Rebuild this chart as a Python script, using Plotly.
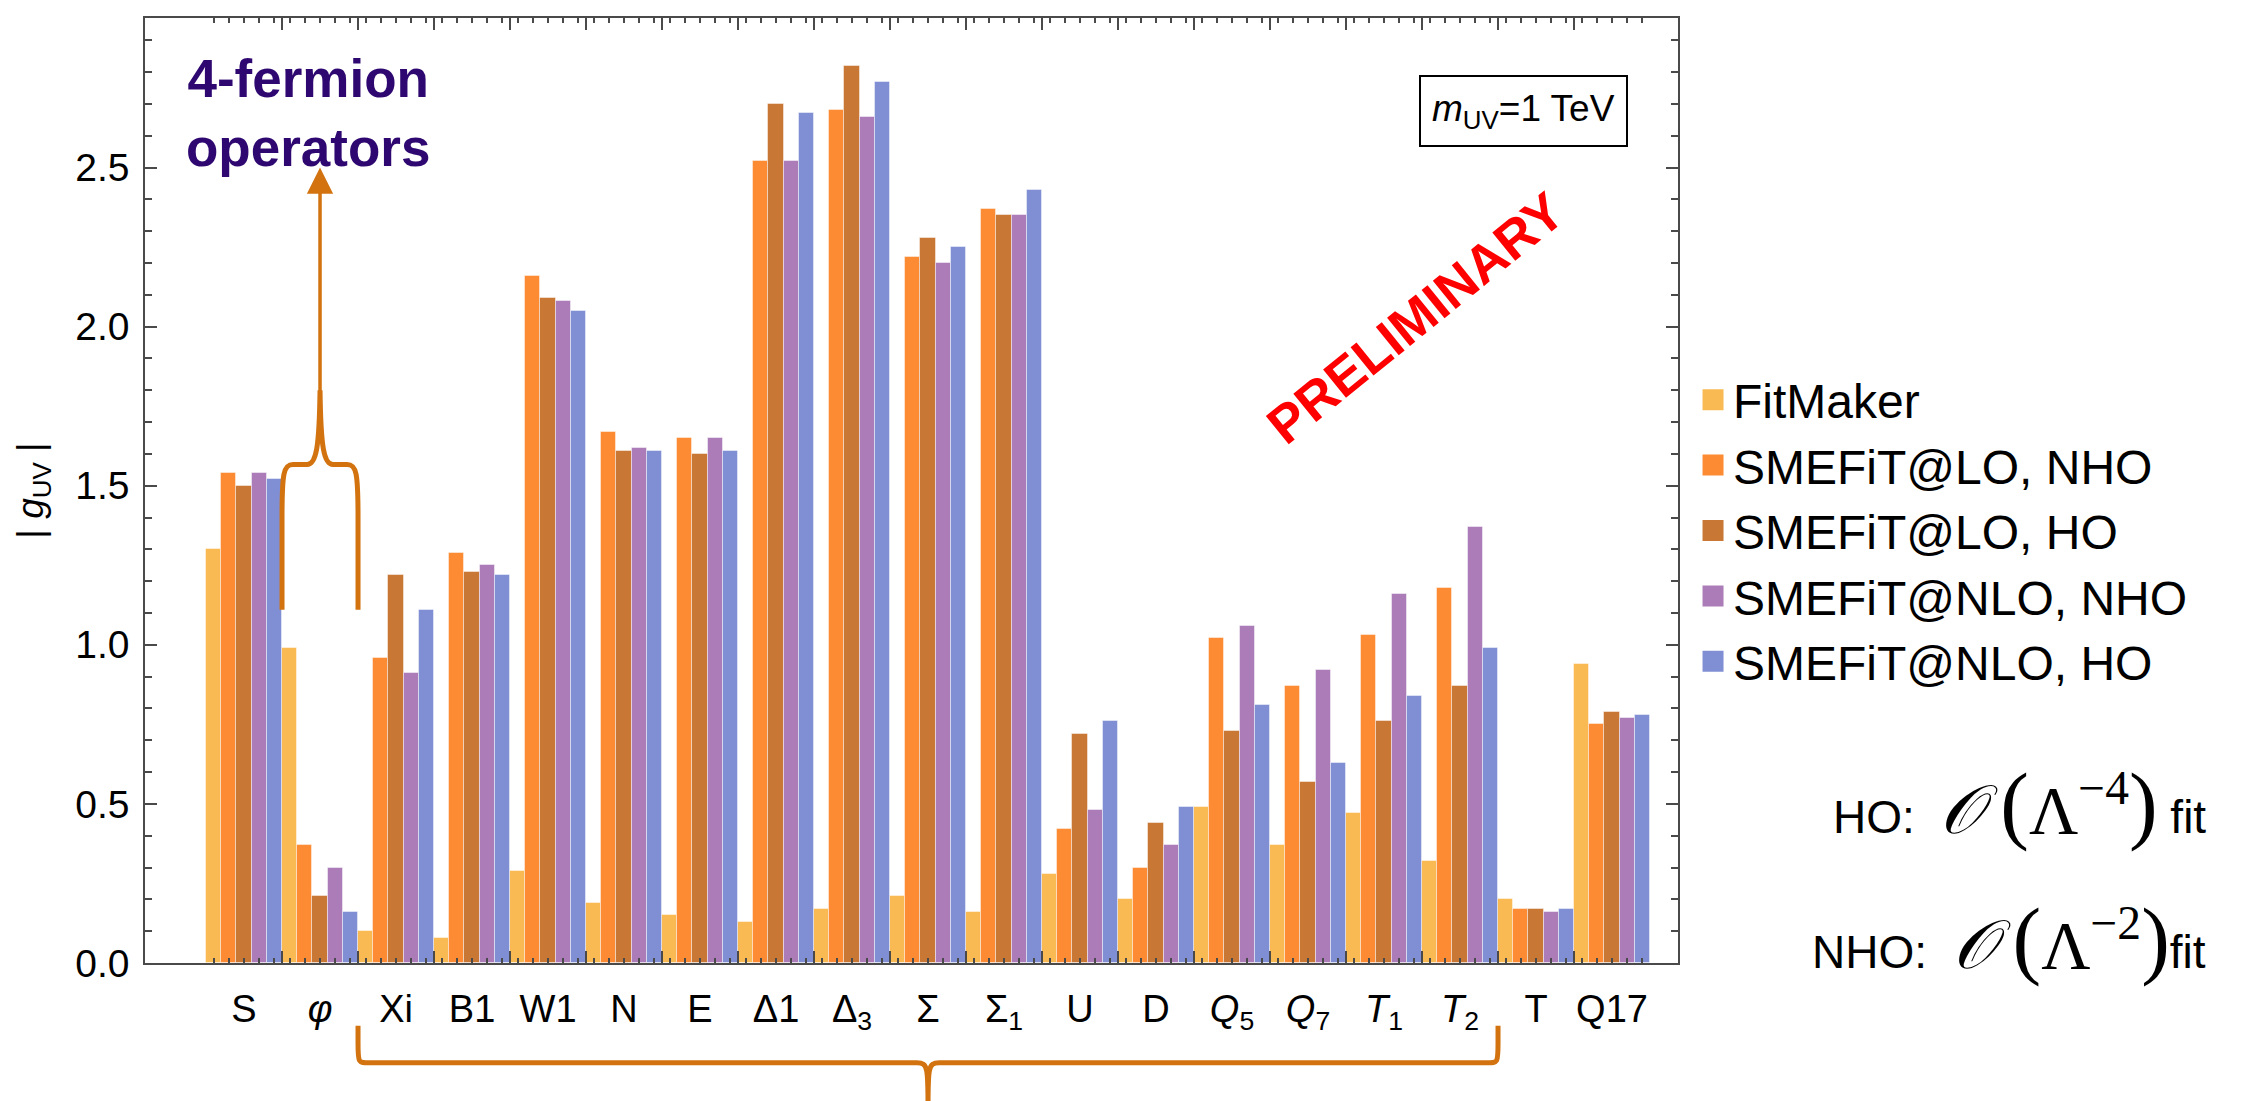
import plotly.graph_objects as go

categories = ["S", "<i>φ</i>", "Xi", "B1", "W1", "N", "E", "Δ1", "Δ<sub>3</sub>", "Σ",
              "Σ<sub>1</sub>", "U", "D", "<i>Q</i><sub>5</sub>", "<i>Q</i><sub>7</sub>",
              "<i>T</i><sub>1</sub>", "<i>T</i><sub>2</sub>", "T", "Q17"]

series_names = ["FitMaker", "SMEFiT@LO, NHO", "SMEFiT@LO, HO", "SMEFiT@NLO, NHO", "SMEFiT@NLO, HO"]

fitmaker = [1.30, 0.99, 0.10, 0.08, 0.29, 0.19, 0.15, 0.13, 0.17, 0.21, 0.16, 0.28, 0.20, 0.49, 0.37, 0.47, 0.32, 0.20, 0.94]
lo_nho   = [1.54, 0.37, 0.96, 1.29, 2.16, 1.67, 1.65, 2.52, 2.68, 2.22, 2.37, 0.42, 0.30, 1.02, 0.87, 1.03, 1.18, 0.17, 0.75]
lo_ho    = [1.50, 0.21, 1.22, 1.23, 2.09, 1.61, 1.60, 2.70, 2.82, 2.28, 2.35, 0.72, 0.44, 0.73, 0.57, 0.76, 0.87, 0.17, 0.79]
nlo_nho  = [1.54, 0.30, 0.91, 1.25, 2.08, 1.62, 1.65, 2.52, 2.66, 2.20, 2.35, 0.48, 0.37, 1.06, 0.92, 1.16, 1.37, 0.16, 0.77]
nlo_ho   = [1.52, 0.16, 1.11, 1.22, 2.05, 1.61, 1.61, 2.67, 2.77, 2.25, 2.43, 0.76, 0.49, 0.81, 0.63, 0.84, 0.99, 0.17, 0.78]

colors = ["#F9BA53", "#FD8B33", "#C87834", "#AB7CB7", "#808ED3"]

FONT = "Liberation Sans, Arial, sans-serif"
SERIF = "Liberation Serif, DejaVu Serif, serif"
AXIS_COLOR = "#4a4a4a"
BRACE_COLOR = "#D2730F"

n = len(categories)
xpos = list(range(n))
all_series = [fitmaker, lo_nho, lo_ho, nlo_nho, nlo_ho]

fig = go.Figure()
for name, vals, col in zip(series_names, all_series, colors):
    fig.add_trace(go.Bar(x=xpos, y=vals, name=name,
                         marker=dict(color=col, line=dict(color="rgba(255,255,255,0.45)", width=1)),
                         showlegend=False))
# legend proxies (bigger squares)
for name, col in zip(series_names, colors):
    fig.add_trace(go.Scatter(x=[None], y=[None], mode="markers", name=name,
                             marker=dict(symbol="square", size=16, color=col, line=dict(color=col, width=5))))
# dummy trace so the tick-overlay axis is drawn
fig.add_trace(go.Scatter(x=[0], y=[0], xaxis="x2", mode="markers", marker=dict(opacity=0),
                         showlegend=False, hoverinfo="skip"))

xr = [-1.303, 18.868]
group_bounds = [k + 0.5 for k in range(n - 1)]
bar_centers = [k + d for k in range(n) for d in (-0.4, -0.2, 0.0, 0.2, 0.4)]

fig.update_layout(
    width=2244, height=1101,
    margin=dict(l=137, r=574, t=8, b=146),
    paper_bgcolor="white", plot_bgcolor="white",
    barmode="group", bargap=0, bargroupgap=0,
    font=dict(family=FONT, color="black"),
    xaxis=dict(range=xr, tickmode="array", tickvals=xpos, ticktext=categories, ticks="",
               showline=True, linecolor=AXIS_COLOR, linewidth=1.5, mirror=True,
               showgrid=False, zeroline=False, tickfont=dict(size=38, family=FONT, color="black"),
               ticklabelstandoff=12),
    xaxis2=dict(range=xr, overlaying="x", anchor="y", side="bottom", tickmode="array", tickvals=group_bounds,
                ticks="inside", ticklen=12, tickwidth=1.5, tickcolor=AXIS_COLOR, showticklabels=False,
                showline=False, showgrid=False, zeroline=False, mirror="ticks",
                minor=dict(tickmode="array", tickvals=bar_centers, ticks="inside", ticklen=5, tickwidth=1.5,
                           tickcolor=AXIS_COLOR, showgrid=False)),
    yaxis=dict(range=[0, 2.97], tickmode="array", tickvals=[0, 0.5, 1.0, 1.5, 2.0, 2.5],
               ticktext=["0.0", "0.5", "1.0", "1.5", "2.0", "2.5"], ticks="inside", ticklen=12, tickwidth=1.5,
               tickcolor=AXIS_COLOR, showline=True, linecolor=AXIS_COLOR, linewidth=1.5, mirror="ticks",
               showgrid=False, zeroline=False, tickfont=dict(size=39, family=FONT, color="black"),
               ticklabelstandoff=6,
               minor=dict(tick0=0, dtick=0.1, ticks="inside", ticklen=7, tickwidth=1.5, tickcolor=AXIS_COLOR,
                          showgrid=False),
               title=dict(text="| <i>g</i><sub>UV</sub> |", font=dict(size=37, family=FONT, color="black"),
                          standoff=20)),
    legend=dict(x=1.0098, xanchor="left", y=0.636, yanchor="top", font=dict(size=48, family=FONT, color="black"),
                bgcolor="rgba(0,0,0,0)", itemwidth=30, tracegroupgap=0),
)

# left curly brace over the phi category, pointing up to the arrow
phi = 1
lb = phi - 0.5
rb = phi + 0.5
brace_left = (f"M {lb},1.11 L {lb},1.40 C {lb},1.54 {lb+0.02},1.567 {lb+0.145},1.567 "
              f"L {phi-0.17},1.567 C {phi-0.05},1.567 {phi-0.01},1.62 {phi},1.80 "
              f"C {phi+0.01},1.62 {phi+0.05},1.567 {phi+0.17},1.567 L {rb-0.145},1.567 "
              f"C {rb-0.02},1.567 {rb},1.54 {rb},1.40 L {rb},1.11")
fig.add_shape(type="path", path=brace_left, xref="x", yref="y", line=dict(color=BRACE_COLOR, width=5), layer="above")

# bottom curly brace spanning Xi..T2
x0b, x1b = 2 - 0.5, 16 + 0.5
xc = (x0b + x1b) / 2
yt, ym, ytip = -0.0665, -0.1056, -0.153
d = 0.145
brace_bottom = (f"M {x0b},{yt} L {x0b},-0.085 C {x0b},{ym} {x0b},{ym} {x0b+d},{ym} "
                f"L {xc-d},{ym} C {xc},{ym} {xc},-0.112 {xc},{ytip} "
                f"C {xc},-0.112 {xc},{ym} {xc+d},{ym} L {x1b-d},{ym} "
                f"C {x1b},{ym} {x1b},{ym} {x1b},-0.085 L {x1b},{yt}")
fig.add_shape(type="path", path=brace_bottom, xref="x", yref="paper", line=dict(color=BRACE_COLOR, width=5),
              layer="above")

# arrow
fig.add_annotation(x=phi, y=2.5, ax=phi, ay=1.78, xref="x", yref="y", axref="x", ayref="y", text="",
                   showarrow=True, arrowhead=2, arrowsize=1.5, arrowwidth=3.5, arrowcolor=BRACE_COLOR, standoff=0)

fig.add_annotation(x=0.84, y=2.67, xref="x", yref="y", text="<b>4-fermion<br>operators</b>", showarrow=False,
                   font=dict(size=53, family=FONT, color="#2E0770"), align="center")

fig.add_annotation(x=16.83, y=2.677, xref="x", yref="y", text="<i>m</i><sub>UV</sub>=1 TeV", showarrow=False,
                   font=dict(size=37, family=FONT, color="black"), bordercolor="black", borderwidth=2, borderpad=11,
                   bgcolor="white")

fig.add_annotation(x=15.42, y=2.028, xref="x", yref="y", text="<b>PRELIMINARY</b>", showarrow=False,
                   font=dict(size=53, family=FONT, color="#FF0000"), textangle=-39)

ho_text = (f'HO:  <span style="font-family:{SERIF};font-size:68px"><i>𝒪</i> '
           f'<span style="font-size:86px">(</span>Λ<sup>−4</sup><span style="font-size:86px">)</span></span> fit')
nho_text = (f'NHO:  <span style="font-family:{SERIF};font-size:68px"><i>𝒪</i> '
            f'<span style="font-size:86px">(</span>Λ<sup>−2</sup><span style="font-size:86px">)</span></span>fit')
fig.add_annotation(x=1.3457, y=0.168, xref="paper", yref="paper", xanchor="right", yanchor="middle", text=ho_text,
                   showarrow=False, font=dict(size=46, family=FONT, color="black"))
fig.add_annotation(x=1.3457, y=0.025, xref="paper", yref="paper", xanchor="right", yanchor="middle", text=nho_text,
                   showarrow=False, font=dict(size=46, family=FONT, color="black"))

fig.write_html("out.html")
